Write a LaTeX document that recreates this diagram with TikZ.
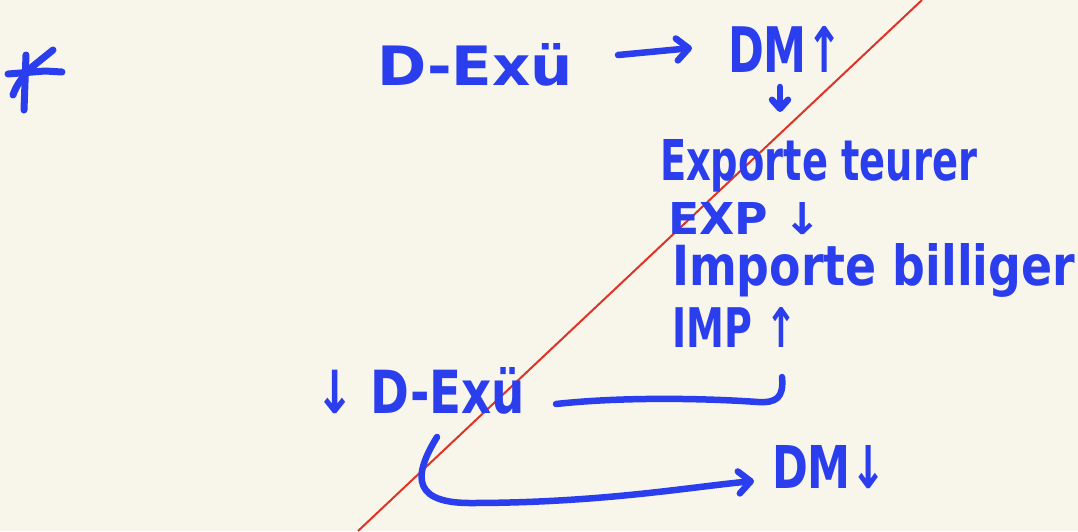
\documentclass[tikz,border=0pt]{standalone}
\usepackage{fontspec}
\usepackage{graphicx}
\setmainfont{DejaVu Sans}
\usetikzlibrary{arrows.meta}
\definecolor{ink}{RGB}{42,62,238}
\definecolor{redline}{RGB}{222,52,40}
\definecolor{paper}{RGB}{248,245,234}
\tikzset{
  hw/.style={inner sep=0pt, outer sep=0pt, anchor=base west, text=ink, font=\bfseries},
  pen/.style={draw=ink, line width=6.5pt, line cap=round, line join=round},
  barb/.style={-{Straight Barb[length=12pt,width=22pt,round]}}
}
\newcommand{\hwbox}[3]{\resizebox{#1pt}{#2pt}{#3}}
\begin{document}
\begin{tikzpicture}[x=1pt,y=-1pt]
\fill[paper] (0,0) rectangle (1078,531);
\useasboundingbox (0,0) rectangle (1078,531);
% red diagonal stroke
\draw[redline, line width=2pt] (358,531) -- (922,0);
% asterisk
\draw[pen, line width=7pt] (26,55) -- (24,110);
\draw[pen, line width=7pt] (8,74) -- (45,71) -- (62,72);
\draw[pen, line width=7pt] (53,50) -- (32,67) .. controls (22,77) and (16,86) .. (13,95);
% texts
\node[hw] (dex1) at (377,85) {\hwbox{196}{42}{D-Exü}};
\node[hw] (dmup) at (728,72) {\hwbox{115}{46}{DM↑}};
\node[hw] (expt) at (660,180) {\hwbox{317}{41}{Exporte teurer}};
\node[hw] (expd) at (668,234) {\hwbox{154}{32}{EXP ↓}};
\node[hw] (impb) at (672,285) {\hwbox{403}{42}{Importe billiger}};
\node[hw] (impu) at (672,347) {\hwbox{125}{40}{IMP ↑}};
\node[hw] (dex2) at (315,413) {\hwbox{210}{46}{↓ D-Exü}};
\node[hw] (dmdn) at (772,488) {\hwbox{115}{43}{DM↓}};
% connectors
\coordinate (a1s) at (618,55);
\coordinate (a1e) at (692,48);
\draw[pen, barb] (a1s) -- (a1e);
\coordinate (a2s) at (780,87);
\coordinate (a2e) at (780,112);
\draw[pen, -{Straight Barb[length=9pt,width=16pt,round]}] (a2s) -- (a2e);
\coordinate (b1s) at (782,377);
\coordinate (b1e) at (556,404);
\draw[pen] (b1s) .. controls (784,398) and (776,403) .. (758,402)
  .. controls (700,398) and (620,397) .. (b1e);
\coordinate (b2s) at (437,437);
\coordinate (b2e) at (754,481);
\draw[pen, barb] (b2s) .. controls (418,468) and (405,503) .. (470,503)
  .. controls (600,503) and (690,487) .. (b2e);
\end{tikzpicture}
\end{document}
